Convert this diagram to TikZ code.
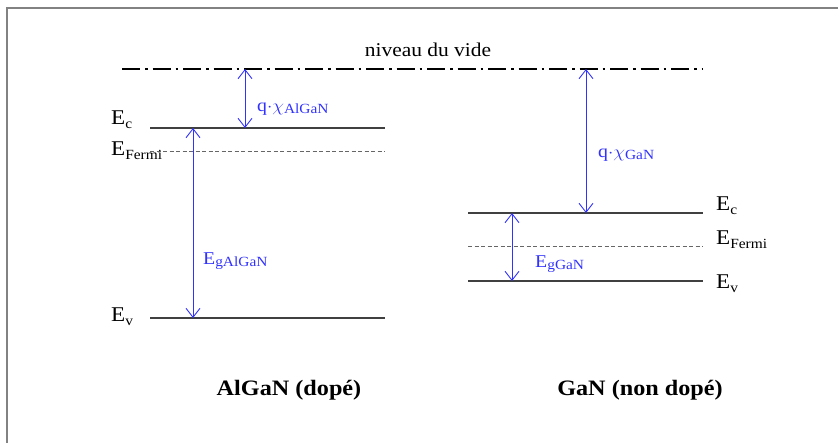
\documentclass[tikz,border=0pt]{standalone}
\usepackage{graphicx}
\usepackage{fontspec}
\setmainfont{Liberation Serif}
\usetikzlibrary{arrows.meta}
\definecolor{arrblue}{RGB}{50,50,255}
\definecolor{framegray}{RGB}{130,130,130}
\tikzset{
  level/.style={line width=1.1pt, black!75},
  fermi/.style={line width=0.9pt, black!60, dash pattern=on 4pt off 2.5pt},
  vide/.style={line width=2.6pt, black, dash pattern=on 18pt off 5pt on 2.5pt off 5pt},
  darr/.style={arrblue, line width=0.9pt, {Straight Barb[length=9pt,width=14pt]}-{Straight Barb[length=9pt,width=14pt]}},
  elab/.style={font=\fontsize{21}{22}\selectfont, inner sep=0pt, anchor=base west},
  blab/.style={arrblue, font=\fontsize{18}{19}\selectfont, inner sep=0pt, anchor=base west},
  title/.style={font=\bfseries\fontsize{22}{24}\selectfont, inner sep=0pt, anchor=base}
}
\newcommand{\hs}[1]{\scalebox{1.1}[1]{#1}}
\newcommand{\bsub}[1]{\raisebox{-0.3ex}{\fontsize{14}{15}\selectfont #1}}
\newcommand{\esub}[1]{\raisebox{-0.45ex}{\fontsize{14}{15}\selectfont #1}}
\begin{document}
\begin{tikzpicture}[x=1pt,y=-1pt]
\useasboundingbox (0,0) rectangle (838,442);
% frame
\draw[framegray, line width=2pt] (7,450) -- (7,8) -- (845,8);

% vacuum level
\coordinate (vL) at (122,69);
\coordinate (vR) at (703,69);
\draw[vide] (vL) -- (vR);
\node[font=\fontsize{19.5}{20}\selectfont, inner sep=0pt, anchor=base] (vide) at (428,56) {\hs{niveau du vide}};

% AlGaN levels
\coordinate (aEcL) at (150,128); \coordinate (aEcR) at (385,128);
\coordinate (aEfL) at (150,151); \coordinate (aEfR) at (385,151);
\coordinate (aEvL) at (150,318); \coordinate (aEvR) at (385,318);
\draw[level] (aEcL) -- (aEcR);
\draw[fermi] (aEfL) -- (aEfR);
\draw[level] (aEvL) -- (aEvR);
\node[elab] (aEc) at (111,124) {\hs{E\esub{c}}};
\node[elab] (aEf) at (111,155) {\hs{E\esub{Fermi}}};
\node[elab] (aEv) at (111,321) {\hs{E\esub{v}}};

% AlGaN arrows
\coordinate (aChiT) at (245,69); \coordinate (aChiB) at (245,128);
\draw[darr] (aChiT) -- (aChiB);
\node[blab] (aChiLab) at (257,111) {\hs{q$\cdot\chi$\bsub{AlGaN}}};
\coordinate (aEgT) at (193,128); \coordinate (aEgB) at (193,318);
\draw[darr] (aEgT) -- (aEgB);
\node[blab] (aEgLab) at (203,264) {\hs{E\bsub{gAlGaN}}};

% GaN levels
\coordinate (gEcL) at (468,213); \coordinate (gEcR) at (703,213);
\coordinate (gEfL) at (468,246); \coordinate (gEfR) at (703,246);
\coordinate (gEvL) at (468,281); \coordinate (gEvR) at (703,281);
\draw[level] (gEcL) -- (gEcR);
\draw[fermi] (gEfL) -- (gEfR);
\draw[level] (gEvL) -- (gEvR);
\node[elab] (gEc) at (716,210) {\hs{E\esub{c}}};
\node[elab] (gEf) at (716,244) {\hs{E\esub{Fermi}}};
\node[elab] (gEv) at (716,288) {\hs{E\esub{v}}};

% GaN arrows
\coordinate (gChiT) at (586,69); \coordinate (gChiB) at (586,213);
\draw[darr] (gChiT) -- (gChiB);
\node[blab] (gChiLab) at (598,157) {\hs{q$\cdot\chi$\bsub{GaN}}};
\coordinate (gEgT) at (512,213); \coordinate (gEgB) at (512,281);
\draw[darr] (gEgT) -- (gEgB);
\node[blab] (gEgLab) at (535,267) {\hs{E\bsub{gGaN}}};

% titles
\node[title] (tA) at (289,395) {\hs{AlGaN (dopé)}};
\node[title] (tG) at (640,395) {\hs{GaN (non dopé)}};
\end{tikzpicture}
\end{document}
